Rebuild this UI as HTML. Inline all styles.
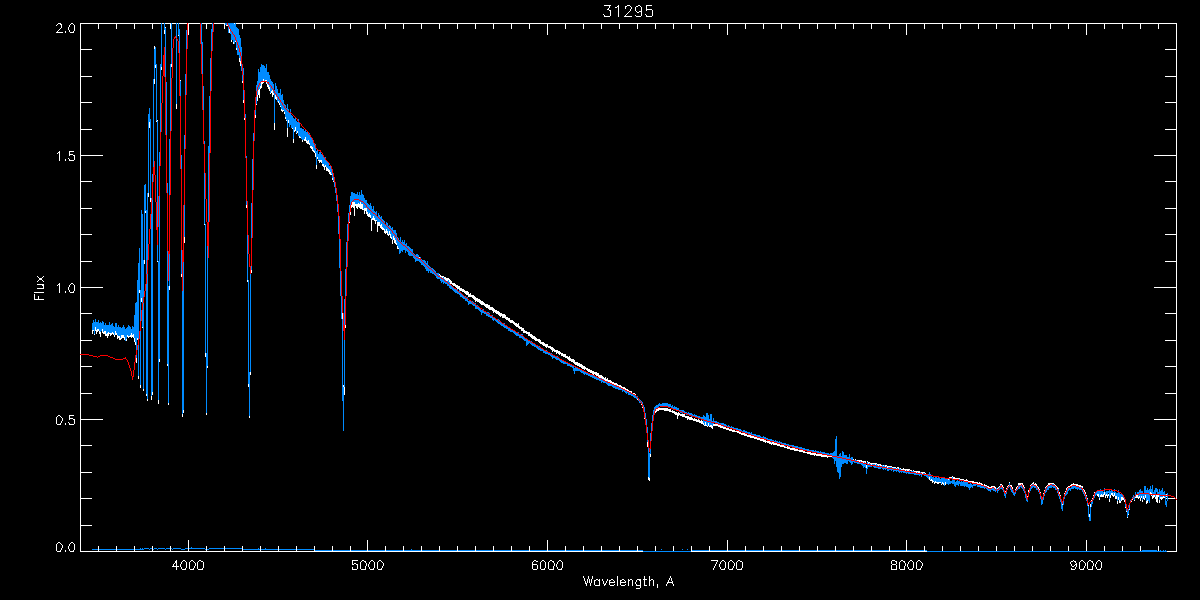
<!DOCTYPE html>
<html><head><meta charset="utf-8"><title>31295</title><style>html,body{margin:0;padding:0;background:#000;width:1200px;height:600px;overflow:hidden;font-family:"Liberation Sans",sans-serif}</style></head><body><svg width="1200" height="600" viewBox="0 0 1200 600" shape-rendering="crispEdges" style="display:block;position:absolute;left:0;top:0"><rect width="1200" height="600" fill="#000"/><path d="M604 5.5h7M646 5.5h6M646 9.5h6M604 16.5h6M624 16.5h8M636 16.5h5M646 16.5h6M80 23.5h81M165 23.5h6M172 23.5h4M179 23.5h8M188 23.5h12M202 23.5h10M214 23.5h11M236 23.5h941M56 32.5h7M70 32.5h4M80 49.5h12M1165 49.5h12M80 76.5h12M1165 76.5h12M80 102.5h12M1165 102.5h12M80 129.5h12M1165 129.5h12M69 151.5h5M69 154.5h4M80 155.5h23M1154 155.5h23M69 160.5h5M318 160.5h4M326 170.5h4M80 181.5h12M1165 181.5h12M352 204.5h11M351 205.5h12M351 206.5h4M356 206.5h7M359 207.5h4M80 208.5h12M1165 208.5h12M362 209.5h5M367 215.5h4M371 219.5h4M377 225.5h5M384 231.5h4M384 232.5h4M80 234.5h12M387 234.5h4M1165 234.5h12M80 261.5h12M1165 261.5h12M440 276.5h4M444 278.5h5M445 279.5h5M450 283.5h5M37 284.5h7M452 284.5h4M453 285.5h5M455 286.5h5M80 287.5h23M456 287.5h4M1154 287.5h23M37 288.5h7M457 288.5h5M459 289.5h5M460 290.5h5M462 291.5h6M34 292.5h10M70 292.5h4M464 292.5h5M465 293.5h4M466 294.5h5M468 295.5h6M468 296.5h7M472 297.5h4M473 298.5h5M34 299.5h10M474 299.5h6M475 300.5h6M477 301.5h6M479 302.5h5M480 303.5h5M481 304.5h7M484 305.5h6M485 306.5h5M486 307.5h7M488 308.5h6M489 309.5h6M492 310.5h5M493 311.5h6M495 312.5h5M80 313.5h12M496 313.5h6M1165 313.5h12M498 314.5h7M499 315.5h7M502 316.5h4M502 317.5h6M505 318.5h5M506 319.5h4M508 320.5h5M509 321.5h5M510 322.5h5M513 323.5h4M514 324.5h5M515 325.5h4M516 326.5h4M518 327.5h4M519 328.5h5M95 330.5h4M521 330.5h4M523 331.5h4M102 332.5h4M523 332.5h7M107 333.5h7M526 333.5h4M105 334.5h4M528 334.5h4M105 335.5h4M130 335.5h4M528 335.5h5M127 336.5h7M530 336.5h5M121 337.5h4M531 337.5h5M532 338.5h5M534 339.5h6M80 340.5h12M535 340.5h6M1165 340.5h12M539 342.5h5M540 343.5h5M542 344.5h6M543 345.5h5M545 346.5h6M548 347.5h5M550 348.5h4M551 349.5h4M552 350.5h6M554 351.5h6M556 352.5h5M558 353.5h5M561 354.5h5M561 355.5h5M563 356.5h5M565 357.5h5M567 358.5h4M568 359.5h6M569 360.5h6M571 361.5h4M573 362.5h5M574 363.5h6M575 364.5h7M577 365.5h6M80 366.5h12M579 366.5h6M1165 366.5h12M581 367.5h5M582 368.5h6M586 369.5h4M587 370.5h5M588 371.5h6M590 372.5h7M592 373.5h7M595 374.5h4M596 375.5h6M598 376.5h5M599 377.5h5M602 378.5h4M604 379.5h4M605 380.5h6M608 381.5h4M610 382.5h4M612 383.5h5M614 384.5h4M617 385.5h4M621 387.5h4M80 393.5h12M1165 393.5h12M658 408.5h10M656 409.5h15M664 410.5h7M669 411.5h6M672 412.5h5M674 413.5h6M675 414.5h10M69 415.5h5M680 415.5h5M682 416.5h7M685 417.5h7M69 418.5h4M687 418.5h6M80 419.5h23M689 419.5h8M1154 419.5h23M693 420.5h7M696 421.5h7M699 422.5h4M57 424.5h4M69 424.5h5M713 424.5h5M713 425.5h8M709 426.5h4M718 426.5h5M720 427.5h6M723 428.5h6M726 429.5h6M729 430.5h6M732 431.5h7M737 432.5h4M739 433.5h6M741 434.5h6M744 435.5h7M747 436.5h7M750 437.5h7M754 438.5h6M757 439.5h7M760 440.5h6M763 441.5h7M767 442.5h4M769 443.5h8M773 444.5h7M80 445.5h12M777 445.5h7M1165 445.5h12M780 446.5h5M784 447.5h6M787 448.5h8M790 449.5h8M794 450.5h9M799 451.5h6M803 452.5h8M807 453.5h9M810 454.5h12M816 455.5h11M821 456.5h11M857 460.5h5M861 461.5h5M870 463.5h7M877 464.5h4M887 466.5h5M892 467.5h4M901 469.5h9M914 471.5h6M80 472.5h12M921 472.5h4M1165 472.5h12M953 478.5h7M960 479.5h4M964 480.5h4M968 481.5h6M934 482.5h7M972 482.5h6M977 483.5h5M1018 483.5h5M1048 483.5h6M1071 484.5h7M1076 485.5h5M991 486.5h4M1079 486.5h4M988 487.5h4M1100 495.5h4M1105 495.5h4M1100 496.5h4M1135 497.5h5M1160 497.5h5M80 498.5h12M1168 498.5h7M80 525.5h12M1165 525.5h12M57 551.5h4M70 551.5h4M80 551.5h563M691 551.5h236M1167 551.5h10M352 560.5h6M711 560.5h7M532 564.5h5M892 564.5h4M172 566.5h7M182 569.5h4M190 569.5h4M198 569.5h5M352 569.5h5M361 569.5h5M370 569.5h4M378 569.5h4M533 569.5h4M541 569.5h4M549 569.5h5M558 569.5h4M721 569.5h4M729 569.5h4M737 569.5h5M891 569.5h6M900 569.5h5M909 569.5h4M917 569.5h4M1071 569.5h4M1080 569.5h4M1088 569.5h5M1097 569.5h4M637 579.5h4M643 579.5h4M609 582.5h6M620 582.5h6M667 582.5h6M595 585.5h5M610 585.5h4M621 585.5h4M636 585.5h5M636 588.5h4M34.5 294v5M37.5 276v1M37.5 281v1M38.5 277v1M38.5 280v1M38.5 296v3M39.5 278v2M40.5 278v2M41.5 278v2M42.5 277v1M42.5 280v1M42.5 285v1M43.5 276v1M43.5 281v1M43.5 285v3M56.5 25v1M56.5 417v7M56.5 544v7M57.5 24v1M57.5 31v1M57.5 153v1M57.5 285v1M57.5 416v1M57.5 543v1M58.5 23v1M58.5 30v1M58.5 152v1M58.5 284v1M58.5 415v1M58.5 542v1M59.5 23v1M59.5 29v1M59.5 151v10M59.5 283v10M59.5 415v1M59.5 542v1M60.5 23v2M60.5 28v1M60.5 416v1M60.5 423v1M60.5 543v1M60.5 550v1M61.5 24v4M61.5 417v1M61.5 421v2M61.5 544v1M61.5 548v2M62.5 418v3M62.5 545v3M65.5 31v2M65.5 159v2M65.5 291v2M65.5 423v2M65.5 550v2M68.5 27v3M68.5 158v1M68.5 287v3M68.5 422v1M68.5 546v3M69.5 25v2M69.5 30v2M69.5 152v2M69.5 155v1M69.5 159v1M69.5 285v2M69.5 290v2M69.5 416v2M69.5 419v1M69.5 423v1M69.5 544v2M69.5 549v2M70.5 24v1M70.5 284v1M70.5 543v1M71.5 23v1M71.5 283v1M71.5 542v1M72.5 23v1M72.5 283v1M72.5 542v1M73.5 24v1M73.5 31v1M73.5 155v1M73.5 284v1M73.5 291v1M73.5 419v1M73.5 543v1M73.5 550v1M74.5 25v6M74.5 155v5M74.5 285v6M74.5 419v5M74.5 544v6M80.5 24v25M80.5 50v26M80.5 77v25M80.5 103v26M80.5 130v25M80.5 156v25M80.5 182v26M80.5 209v25M80.5 235v26M80.5 262v25M80.5 288v25M80.5 314v26M80.5 341v13M80.5 355v11M80.5 367v26M80.5 394v25M80.5 420v25M80.5 446v26M80.5 473v25M80.5 499v26M80.5 526v25M92.5 330v4M93.5 330v1M94.5 334v1M95.5 327v3M96.5 331v3M97.5 329v1M97.5 331v1M98.5 24v5M98.5 329v1M98.5 546v5M99.5 331v3M100.5 332v5M102.5 329v3M103.5 333v1M104.5 331v1M104.5 333v1M105.5 331v1M105.5 333v1M107.5 336v2M108.5 332v1M110.5 334v2M111.5 334v1M112.5 332v1M113.5 334v1M114.5 335v2M115.5 331v4M116.5 24v5M116.5 333v2M116.5 546v5M117.5 335v4M118.5 336v2M119.5 336v4M120.5 338v2M121.5 335v2M121.5 338v1M122.5 335v2M123.5 335v2M124.5 338v2M126.5 339v2M127.5 335v1M128.5 337v1M131.5 333v2M131.5 337v1M133.5 334v1M133.5 337v1M134.5 24v5M134.5 338v4M134.5 546v5M135.5 342v3M136.5 358v5M137.5 338v2M138.5 376v3M139.5 290v3M140.5 385v3M141.5 298v4M142.5 327v1M143.5 389v2M144.5 260v4M145.5 211v2M146.5 394v2M147.5 399v2M148.5 193v4M149.5 122v6M150.5 198v4M151.5 396v4M152.5 24v5M152.5 392v3M152.5 546v5M154.5 46v3M154.5 79v5M155.5 65v3M156.5 121v1M157.5 120v1M157.5 261v1M158.5 400v4M159.5 359v3M161.5 67v3M162.5 23v1M163.5 23v1M164.5 30v4M165.5 27v1M167.5 364v2M168.5 403v2M169.5 286v4M170.5 24v5M170.5 546v5M171.5 64v3M173.5 564v2M174.5 563v1M175.5 561v2M176.5 104v5M176.5 560v6M176.5 567v3M177.5 23v1M178.5 35v1M180.5 80v1M180.5 564v3M181.5 274v3M181.5 562v2M181.5 567v2M182.5 414v3M182.5 561v1M183.5 410v3M183.5 560v1M184.5 237v6M184.5 560v1M185.5 561v1M185.5 568v1M186.5 562v6M188.5 24v11M188.5 540v11M189.5 562v7M190.5 561v1M191.5 560v1M192.5 560v1M193.5 561v1M193.5 568v1M194.5 562v1M194.5 566v2M195.5 563v3M197.5 562v7M198.5 561v1M199.5 560v1M200.5 560v1M201.5 561v1M202.5 561v1M202.5 568v1M203.5 562v6M204.5 224v1M205.5 353v4M206.5 24v5M206.5 413v2M206.5 546v5M207.5 366v2M224.5 24v5M224.5 546v5M226.5 25v1M227.5 25v1M229.5 29v4M231.5 40v2M233.5 42v2M234.5 23v1M235.5 41v1M236.5 48v2M239.5 58v4M240.5 61v5M242.5 24v5M242.5 81v2M242.5 546v5M243.5 100v3M244.5 118v2M246.5 205v3M247.5 280v2M248.5 384v3M249.5 416v2M250.5 372v3M251.5 270v3M255.5 115v3M256.5 104v1M257.5 95v6M258.5 90v5M259.5 89v9M260.5 24v5M260.5 86v3M260.5 546v5M261.5 82v6M262.5 82v2M263.5 79v2M263.5 82v1M265.5 80v1M266.5 80v1M266.5 82v2M267.5 84v3M268.5 85v4M269.5 87v4M270.5 93v1M271.5 91v2M272.5 90v7M273.5 93v2M274.5 123v7M275.5 95v4M276.5 97v3M278.5 24v5M278.5 101v2M278.5 546v5M279.5 103v2M280.5 106v1M281.5 109v2M282.5 110v2M283.5 110v1M284.5 112v2M285.5 117v2M286.5 120v1M287.5 128v9M288.5 120v3M292.5 128v1M293.5 139v4M294.5 130v2M295.5 127v4M296.5 24v5M296.5 133v1M296.5 546v5M297.5 131v2M299.5 136v2M300.5 137v1M302.5 140v2M304.5 139v2M305.5 137v4M306.5 140v3M307.5 141v3M308.5 140v4M309.5 143v2M310.5 146v2M311.5 146v3M312.5 147v4M313.5 150v2M314.5 24v5M314.5 151v2M314.5 546v5M315.5 153v4M316.5 165v4M317.5 157v2M319.5 161v2M320.5 161v1M321.5 161v2M322.5 164v2M323.5 164v3M324.5 166v4M325.5 165v2M326.5 167v3M327.5 168v2M328.5 169v1M328.5 171v1M329.5 171v3M330.5 172v3M331.5 174v1M332.5 24v5M332.5 178v2M332.5 546v5M333.5 181v1M342.5 313v6M343.5 385v2M344.5 387v8M345.5 325v3M349.5 222v1M350.5 24v5M350.5 212v3M350.5 546v5M351.5 207v1M352.5 202v2M352.5 561v4M352.5 567v2M353.5 202v2M353.5 207v1M353.5 564v1M354.5 202v2M354.5 207v9M354.5 563v1M355.5 563v1M356.5 207v1M356.5 564v1M357.5 207v2M357.5 564v5M358.5 203v1M360.5 202v2M360.5 208v1M360.5 562v7M361.5 208v1M361.5 561v1M362.5 208v1M362.5 560v1M363.5 560v1M364.5 208v1M364.5 210v4M364.5 561v1M365.5 208v1M365.5 210v1M365.5 561v2M365.5 566v3M366.5 208v1M366.5 210v4M366.5 563v3M367.5 24v11M367.5 212v3M367.5 540v11M368.5 214v1M368.5 216v1M368.5 564v3M369.5 213v2M369.5 216v1M369.5 562v2M369.5 567v2M370.5 216v2M370.5 561v1M371.5 220v11M371.5 560v1M372.5 218v1M372.5 560v1M373.5 216v3M373.5 561v1M373.5 568v1M374.5 218v1M374.5 220v1M374.5 562v6M375.5 220v4M376.5 220v1M377.5 222v3M377.5 226v6M377.5 562v7M378.5 222v3M378.5 561v1M379.5 222v3M379.5 560v1M380.5 226v2M380.5 560v1M381.5 224v1M381.5 226v3M381.5 561v1M381.5 568v1M382.5 227v3M382.5 562v1M382.5 566v2M383.5 228v2M383.5 563v3M384.5 229v2M385.5 24v5M385.5 233v1M385.5 546v5M386.5 229v2M387.5 233v1M388.5 235v1M389.5 231v3M390.5 235v3M391.5 237v2M392.5 240v4M393.5 236v4M394.5 238v5M395.5 240v4M396.5 243v2M397.5 246v3M398.5 248v1M403.5 24v5M403.5 546v5M419.5 257v1M421.5 24v5M421.5 546v5M439.5 24v5M439.5 274v1M439.5 546v5M440.5 275v1M442.5 277v1M444.5 277v1M445.5 277v1M446.5 280v1M447.5 280v1M449.5 280v2M450.5 280v3M451.5 281v2M457.5 24v5M457.5 546v5M470.5 293v1M475.5 24v5M475.5 301v1M475.5 546v5M493.5 24v5M493.5 312v1M493.5 546v5M500.5 316v1M511.5 24v5M511.5 546v5M518.5 323v1M521.5 329v1M522.5 329v1M523.5 329v1M529.5 24v5M529.5 546v5M532.5 562v2M532.5 565v4M533.5 561v1M534.5 560v1M535.5 560v1M536.5 561v1M537.5 561v1M537.5 565v4M538.5 341v1M539.5 341v1M540.5 341v1M540.5 562v7M541.5 561v1M542.5 560v1M543.5 560v1M544.5 561v1M544.5 568v1M545.5 562v6M546.5 347v1M547.5 24v11M547.5 540v11M548.5 562v7M549.5 561v1M550.5 560v1M551.5 560v1M552.5 351v1M552.5 561v1M553.5 561v2M553.5 566v3M554.5 563v3M556.5 353v1M556.5 564v3M557.5 562v2M557.5 567v2M558.5 561v1M559.5 354v1M559.5 560v1M560.5 560v1M561.5 561v1M561.5 568v1M562.5 562v6M565.5 24v5M565.5 546v5M569.5 356v1M583.5 24v5M583.5 546v5M583.5 576v2M584.5 369v1M584.5 578v3M585.5 581v3M586.5 583v3M587.5 579v4M588.5 576v3M589.5 579v4M590.5 583v3M591.5 579v4M592.5 576v3M593.5 374v1M594.5 580v5M595.5 580v1M596.5 579v1M597.5 579v1M598.5 580v1M599.5 579v6M601.5 24v5M601.5 546v5M602.5 579v2M603.5 14v1M603.5 581v3M604.5 15v1M604.5 584v2M605.5 377v1M605.5 583v2M606.5 581v2M607.5 9v1M607.5 378v1M607.5 579v2M608.5 8v2M609.5 6v2M609.5 10v1M609.5 580v2M609.5 583v2M610.5 10v6M610.5 580v1M611.5 579v1M612.5 579v1M613.5 580v1M614.5 581v1M614.5 584v1M615.5 7v1M616.5 7v1M617.5 6v1M617.5 576v10M618.5 5v12M619.5 24v5M619.5 386v1M619.5 546v5M620.5 386v1M620.5 580v2M620.5 583v2M621.5 386v1M621.5 580v1M622.5 579v1M623.5 388v1M623.5 579v1M624.5 388v1M624.5 580v1M625.5 6v3M625.5 15v1M625.5 388v2M625.5 581v1M625.5 584v1M626.5 6v1M626.5 14v1M626.5 389v1M627.5 5v1M627.5 13v1M627.5 389v2M628.5 5v1M628.5 12v1M628.5 390v1M628.5 579v7M629.5 5v1M629.5 11v1M629.5 391v1M629.5 580v1M630.5 6v1M630.5 9v2M630.5 391v1M630.5 579v1M631.5 7v2M631.5 391v2M631.5 579v1M632.5 580v6M633.5 393v1M634.5 393v1M635.5 7v4M635.5 15v1M635.5 394v1M635.5 582v2M636.5 6v1M636.5 11v1M636.5 580v2M636.5 584v1M637.5 6v1M637.5 12v1M637.5 24v5M637.5 399v1M637.5 546v5M638.5 5v1M638.5 12v1M639.5 5v1M639.5 11v1M639.5 580v1M640.5 6v1M640.5 11v1M640.5 580v5M640.5 586v2M641.5 7v9M641.5 404v1M642.5 407v1M644.5 418v1M644.5 576v3M644.5 580v6M645.5 14v1M645.5 585v1M646.5 6v3M646.5 10v1M646.5 15v1M646.5 585v1M647.5 442v5M648.5 477v3M649.5 478v3M649.5 576v10M650.5 454v3M650.5 580v1M651.5 579v1M652.5 10v6M652.5 579v1M653.5 580v6M655.5 24v5M655.5 411v2M655.5 546v5M656.5 410v2M657.5 410v1M657.5 584v4M658.5 410v1M666.5 584v2M667.5 583v1M668.5 580v2M669.5 578v2M670.5 576v2M671.5 578v3M672.5 410v1M672.5 581v1M672.5 583v1M673.5 24v5M673.5 546v5M673.5 584v2M677.5 415v4M678.5 412v1M678.5 415v1M687.5 419v1M691.5 24v5M691.5 546v5M694.5 418v1M698.5 419v1M701.5 420v1M701.5 423v1M702.5 423v1M703.5 423v2M704.5 425v1M705.5 422v4M706.5 425v1M707.5 426v1M708.5 423v3M709.5 24v5M709.5 546v5M710.5 425v1M711.5 425v1M711.5 427v1M712.5 427v2M713.5 568v2M714.5 566v2M715.5 564v2M716.5 562v2M717.5 561v1M719.5 564v3M720.5 562v2M720.5 567v2M721.5 561v1M722.5 560v1M723.5 560v1M724.5 561v1M724.5 568v1M725.5 562v6M727.5 24v11M727.5 540v11M728.5 562v7M729.5 561v1M730.5 560v1M731.5 560v1M732.5 561v1M732.5 568v1M733.5 562v1M733.5 566v2M734.5 563v3M736.5 562v7M737.5 561v1M738.5 560v1M739.5 560v1M740.5 561v1M741.5 561v1M741.5 568v1M742.5 562v6M745.5 24v5M745.5 546v5M763.5 24v5M763.5 546v5M765.5 442v1M771.5 444v1M772.5 442v1M773.5 442v1M781.5 24v5M781.5 546v5M787.5 446v1M799.5 24v5M799.5 546v5M814.5 455v1M817.5 24v5M817.5 546v5M827.5 457v1M835.5 24v5M835.5 546v5M853.5 24v5M853.5 459v1M853.5 546v5M855.5 459v1M859.5 461v1M863.5 462v1M865.5 462v1M866.5 465v3M867.5 461v1M868.5 462v2M869.5 462v1M871.5 24v5M871.5 464v1M871.5 546v5M875.5 464v1M878.5 465v1M880.5 465v1M881.5 465v1M883.5 465v1M885.5 465v2M886.5 465v1M887.5 467v1M889.5 24v5M889.5 546v5M891.5 561v3M891.5 565v4M892.5 560v1M893.5 560v1M894.5 560v1M895.5 561v1M896.5 468v1M896.5 561v3M896.5 565v4M897.5 467v1M898.5 467v2M899.5 562v7M900.5 468v1M900.5 561v1M901.5 560v1M902.5 560v1M903.5 468v1M903.5 561v1M904.5 561v2M904.5 566v3M905.5 470v1M905.5 563v3M906.5 24v11M906.5 540v11M907.5 470v1M907.5 564v3M908.5 470v1M908.5 562v2M908.5 567v2M909.5 561v1M910.5 470v1M910.5 560v1M911.5 470v1M911.5 560v1M912.5 561v1M912.5 568v1M913.5 470v1M913.5 562v6M916.5 472v1M916.5 562v7M917.5 561v1M918.5 472v1M918.5 560v1M919.5 472v1M919.5 560v1M920.5 561v1M920.5 568v1M921.5 562v1M921.5 566v2M922.5 473v1M922.5 563v3M924.5 24v5M924.5 546v5M925.5 473v1M929.5 477v3M930.5 480v1M931.5 479v2M932.5 480v3M933.5 481v1M934.5 483v1M935.5 481v1M937.5 483v1M938.5 483v1M941.5 484v1M942.5 24v5M942.5 482v2M942.5 546v5M943.5 483v2M945.5 482v3M948.5 479v1M949.5 477v1M950.5 477v1M951.5 477v1M952.5 476v1M953.5 477v1M954.5 477v1M960.5 24v5M960.5 546v5M966.5 479v1M978.5 24v5M978.5 546v5M979.5 482v1M981.5 484v1M982.5 484v1M984.5 484v2M985.5 485v1M986.5 485v1M987.5 486v1M988.5 486v1M994.5 487v1M995.5 487v2M996.5 24v5M996.5 546v5M997.5 488v1M998.5 487v1M999.5 486v1M1000.5 484v1M1001.5 484v1M1002.5 485v2M1003.5 487v1M1005.5 491v1M1006.5 488v1M1007.5 486v1M1008.5 485v1M1009.5 482v1M1010.5 485v1M1011.5 485v2M1012.5 487v2M1014.5 24v5M1014.5 546v5M1015.5 489v1M1016.5 487v2M1017.5 486v1M1018.5 484v1M1019.5 484v1M1020.5 484v1M1022.5 484v1M1023.5 485v2M1024.5 487v1M1027.5 496v1M1028.5 490v2M1030.5 485v1M1031.5 484v1M1032.5 24v5M1032.5 483v1M1032.5 546v5M1033.5 482v2M1034.5 484v1M1035.5 483v2M1036.5 484v2M1037.5 486v1M1038.5 487v2M1039.5 489v1M1040.5 492v1M1043.5 493v1M1044.5 490v1M1045.5 487v1M1046.5 486v1M1047.5 485v1M1048.5 484v1M1049.5 484v1M1050.5 24v5M1050.5 546v5M1054.5 484v1M1055.5 485v1M1056.5 486v1M1057.5 487v2M1058.5 488v1M1059.5 492v2M1060.5 495v1M1062.5 504v1M1064.5 493v1M1065.5 491v1M1066.5 488v2M1067.5 487v1M1068.5 24v5M1068.5 486v1M1068.5 546v5M1069.5 486v1M1070.5 485v1M1070.5 562v2M1071.5 485v1M1071.5 561v1M1071.5 564v2M1071.5 568v1M1072.5 561v1M1072.5 566v1M1073.5 483v1M1073.5 560v1M1073.5 566v1M1074.5 561v1M1074.5 565v1M1075.5 561v2M1075.5 564v1M1075.5 567v2M1076.5 563v4M1079.5 562v7M1080.5 561v1M1081.5 560v1M1082.5 487v1M1082.5 560v1M1083.5 489v1M1083.5 561v1M1083.5 568v1M1084.5 490v2M1084.5 562v1M1084.5 566v2M1085.5 492v2M1085.5 563v3M1086.5 24v11M1086.5 495v1M1086.5 540v11M1087.5 498v1M1087.5 562v7M1088.5 505v1M1088.5 561v1M1089.5 514v3M1089.5 560v1M1090.5 504v3M1090.5 560v1M1091.5 500v1M1091.5 561v1M1092.5 498v1M1092.5 561v2M1092.5 566v3M1093.5 495v1M1093.5 563v3M1094.5 492v1M1095.5 564v3M1096.5 562v2M1096.5 567v2M1097.5 494v2M1097.5 561v1M1098.5 494v3M1098.5 560v1M1099.5 498v2M1099.5 560v1M1100.5 561v1M1100.5 568v1M1101.5 494v1M1101.5 562v6M1103.5 494v1M1104.5 24v5M1104.5 492v3M1104.5 546v5M1105.5 496v2M1106.5 494v1M1107.5 496v2M1108.5 494v1M1109.5 499v3M1110.5 495v3M1111.5 493v2M1112.5 493v3M1113.5 495v2M1114.5 493v3M1115.5 496v3M1116.5 496v3M1117.5 501v3M1118.5 497v3M1119.5 500v3M1120.5 501v2M1121.5 497v4M1122.5 24v5M1122.5 497v3M1122.5 546v5M1123.5 498v2M1124.5 500v2M1125.5 507v1M1126.5 511v1M1127.5 517v1M1128.5 514v1M1129.5 509v1M1131.5 501v1M1132.5 499v1M1134.5 500v1M1136.5 495v2M1137.5 495v2M1138.5 498v1M1139.5 496v1M1140.5 24v5M1140.5 498v3M1140.5 546v5M1141.5 496v2M1142.5 500v2M1143.5 496v3M1144.5 498v2M1145.5 495v3M1146.5 501v3M1147.5 500v3M1150.5 492v2M1151.5 493v1M1151.5 495v1M1152.5 496v3M1153.5 495v3M1154.5 495v2M1155.5 497v2M1156.5 495v7M1157.5 495v8M1158.5 24v5M1158.5 495v2M1158.5 546v5M1159.5 500v3M1160.5 498v1M1161.5 498v2M1162.5 498v1M1163.5 496v1M1166.5 494v1M1166.5 496v1M1166.5 498v1M1176.5 24v25M1176.5 50v26M1176.5 77v25M1176.5 103v26M1176.5 130v25M1176.5 156v25M1176.5 182v26M1176.5 209v25M1176.5 235v26M1176.5 262v25M1176.5 288v25M1176.5 314v26M1176.5 341v25M1176.5 367v26M1176.5 394v25M1176.5 420v25M1176.5 446v26M1176.5 473v26M1176.5 500v25M1176.5 526v25" stroke="#fff" stroke-width="1" fill="none"/><path d="M261 81.5h6M354 199.5h5M80 354.5h9M89 355.5h4M100 355.5h8M93 356.5h4M115 359.5h8M660 406.5h8M707 421.5h4M711 422.5h4M760 438.5h4M770 441.5h4M777 443.5h4M784 445.5h4M788 446.5h4M795 448.5h4M799 449.5h4M803 450.5h4M807 451.5h5M812 452.5h5M817 453.5h5M822 454.5h5M827 455.5h5M832 456.5h5M837 457.5h5M842 458.5h4M846 459.5h5M851 460.5h4M855 461.5h4M859 462.5h4M863 463.5h4M870 465.5h6M876 466.5h6M882 467.5h5M887 468.5h6M893 469.5h6M899 470.5h6M905 471.5h5M910 472.5h6M916 473.5h6M922 474.5h6M928 475.5h5M933 476.5h6M939 477.5h6M945 478.5h7M952 479.5h7M959 480.5h5M964 481.5h4M968 482.5h4M972 483.5h5M977 484.5h4M1072 485.5h4M988 488.5h4M1104 489.5h8M1097 490.5h7M1112 490.5h5M1139 493.5h10M1149 494.5h11M1160 495.5h11M97.5 357v1M98.5 356v1M99.5 356v1M108.5 356v1M109.5 356v1M110.5 357v1M111.5 357v1M112.5 357v1M113.5 358v1M114.5 358v1M123.5 358v1M124.5 358v1M125.5 357v2M126.5 359v1M127.5 360v2M128.5 362v3M129.5 365v3M130.5 368v3M131.5 371v5M132.5 376v4M133.5 370v7M134.5 362v8M135.5 355v7M136.5 350v5M137.5 345v5M138.5 339v6M139.5 331v8M140.5 321v10M141.5 310v11M142.5 303v7M143.5 297v6M144.5 291v6M145.5 284v7M146.5 274v10M147.5 260v14M148.5 244v16M149.5 229v15M150.5 214v15M151.5 200v14M152.5 182v18M153.5 167v15M154.5 161v14M155.5 175v27M156.5 202v28M157.5 227v18M158.5 196v31M159.5 166v30M160.5 132v34M161.5 103v29M162.5 76v27M163.5 55v21M164.5 47v30M165.5 77v58M166.5 135v58M167.5 193v58M168.5 251v30M169.5 195v59M170.5 131v64M171.5 78v53M172.5 48v30M173.5 39v9M174.5 37v2M175.5 36v2M176.5 38v1M177.5 39v2M178.5 41v12M179.5 53v43M180.5 96v73M181.5 169v81M182.5 250v41M183.5 205v57M184.5 149v56M185.5 95v54M186.5 49v46M187.5 23v26M200.5 23v21M201.5 44v30M202.5 74v36M203.5 110v34M204.5 144v29M205.5 173v26M206.5 199v23M207.5 222v24M208.5 222v36M209.5 153v69M210.5 91v62M211.5 51v40M212.5 32v19M213.5 23v9M227.5 23v2M228.5 25v2M229.5 27v2M230.5 29v2M231.5 31v1M232.5 32v2M233.5 34v1M234.5 35v2M235.5 37v3M236.5 40v2M237.5 42v3M238.5 45v3M239.5 48v4M240.5 52v4M241.5 56v8M242.5 64v11M243.5 75v15M244.5 90v28M245.5 118v40M246.5 158v43M247.5 201v34M248.5 235v19M249.5 254v13M250.5 266v8M251.5 238v28M252.5 190v48M253.5 141v49M254.5 110v31M255.5 97v13M256.5 91v6M257.5 87v4M258.5 85v2M259.5 83v2M260.5 82v1M267.5 82v1M268.5 82v2M269.5 84v1M270.5 85v1M271.5 86v2M272.5 88v1M273.5 89v2M274.5 91v2M275.5 93v1M276.5 94v2M277.5 96v1M278.5 97v2M279.5 99v1M280.5 100v2M281.5 102v1M282.5 103v2M283.5 105v1M284.5 106v2M285.5 108v1M286.5 109v1M287.5 110v1M288.5 111v1M289.5 112v1M290.5 112v1M291.5 113v1M292.5 114v1M293.5 115v1M294.5 116v1M295.5 117v1M296.5 118v1M297.5 119v2M298.5 121v1M299.5 122v1M300.5 123v1M301.5 124v2M302.5 126v1M303.5 127v1M304.5 128v1M305.5 129v1M306.5 130v1M307.5 131v1M308.5 132v2M309.5 134v1M310.5 135v2M311.5 137v1M312.5 138v2M313.5 140v3M314.5 143v2M315.5 145v3M316.5 148v1M317.5 149v1M318.5 150v1M319.5 150v1M320.5 150v2M321.5 152v1M322.5 153v2M323.5 155v2M324.5 157v1M325.5 158v2M326.5 160v1M327.5 161v1M328.5 162v1M329.5 163v2M330.5 165v1M331.5 166v3M332.5 169v4M333.5 173v4M334.5 177v5M335.5 182v6M336.5 188v7M337.5 195v9M338.5 204v12M339.5 216v23M340.5 239v32M341.5 271v25M342.5 296v17M343.5 313v18M344.5 325v15M345.5 296v29M346.5 267v29M347.5 241v26M348.5 222v19M349.5 212v10M350.5 205v7M351.5 202v3M352.5 201v1M353.5 200v1M359.5 200v1M360.5 200v1M361.5 201v1M362.5 201v1M363.5 202v1M364.5 203v1M365.5 204v1M366.5 205v2M367.5 207v1M368.5 208v1M369.5 209v1M370.5 210v1M371.5 211v1M372.5 212v1M373.5 213v1M374.5 213v1M375.5 214v1M376.5 215v1M377.5 216v1M378.5 217v1M379.5 218v1M380.5 219v1M381.5 220v1M382.5 221v1M383.5 222v1M384.5 223v1M385.5 224v1M386.5 225v1M387.5 226v1M388.5 227v1M389.5 228v1M390.5 229v1M391.5 230v1M392.5 231v2M393.5 233v1M394.5 234v1M395.5 235v2M396.5 237v1M397.5 238v2M398.5 240v1M399.5 241v1M400.5 242v1M401.5 243v1M402.5 244v1M403.5 245v1M404.5 245v1M405.5 246v1M406.5 247v1M407.5 248v1M408.5 249v1M409.5 250v1M410.5 251v1M411.5 252v1M412.5 253v1M413.5 254v1M414.5 255v1M415.5 256v1M416.5 257v1M417.5 257v1M418.5 258v1M419.5 258v1M420.5 258v2M421.5 260v1M422.5 261v1M423.5 262v1M424.5 263v1M425.5 264v1M426.5 265v1M427.5 266v1M428.5 267v1M429.5 268v1M430.5 268v1M431.5 269v1M432.5 270v1M433.5 271v1M434.5 272v1M435.5 273v1M436.5 274v1M437.5 275v1M438.5 276v1M439.5 276v1M440.5 277v1M441.5 278v1M442.5 278v1M443.5 279v1M444.5 280v1M445.5 281v1M446.5 281v1M447.5 282v1M448.5 283v1M449.5 284v1M450.5 284v1M451.5 285v1M452.5 286v1M453.5 287v1M454.5 288v1M455.5 288v1M456.5 289v1M457.5 290v1M458.5 291v1M459.5 292v1M460.5 292v1M461.5 293v1M462.5 294v1M463.5 295v1M464.5 296v1M465.5 297v1M466.5 297v1M467.5 298v1M468.5 299v1M469.5 300v1M470.5 300v1M471.5 301v1M472.5 302v1M473.5 303v1M474.5 303v1M475.5 304v1M476.5 305v1M477.5 306v1M478.5 306v1M479.5 307v1M480.5 308v1M481.5 308v1M482.5 309v1M483.5 310v1M484.5 311v1M485.5 311v1M486.5 312v1M487.5 313v1M488.5 313v1M489.5 314v1M490.5 315v1M491.5 315v1M492.5 316v1M493.5 317v1M494.5 317v1M495.5 318v1M496.5 319v1M497.5 319v1M498.5 320v1M499.5 321v1M500.5 321v1M501.5 322v1M502.5 323v1M503.5 323v1M504.5 324v1M505.5 325v1M506.5 325v1M507.5 326v1M508.5 327v1M509.5 327v1M510.5 328v1M511.5 329v1M512.5 329v1M513.5 330v1M514.5 330v1M515.5 331v1M516.5 332v1M517.5 332v1M518.5 333v1M519.5 334v1M520.5 334v1M521.5 335v1M522.5 335v1M523.5 336v1M524.5 337v1M525.5 338v1M526.5 338v1M527.5 339v1M528.5 340v1M529.5 340v1M530.5 341v1M531.5 342v1M532.5 342v1M533.5 343v1M534.5 343v1M535.5 344v1M536.5 345v1M537.5 345v1M538.5 346v1M539.5 347v1M540.5 347v1M541.5 348v1M542.5 348v1M543.5 349v1M544.5 350v1M545.5 350v1M546.5 351v1M547.5 351v1M548.5 352v1M549.5 352v1M550.5 353v1M551.5 354v1M552.5 354v1M553.5 355v1M554.5 355v1M555.5 356v1M556.5 356v1M557.5 357v1M558.5 357v1M559.5 358v1M560.5 359v1M561.5 359v1M562.5 360v1M563.5 360v1M564.5 361v1M565.5 361v1M566.5 362v1M567.5 362v1M568.5 363v1M569.5 363v1M570.5 364v1M571.5 364v1M572.5 365v1M573.5 365v1M574.5 366v1M575.5 366v1M576.5 367v1M577.5 367v1M578.5 368v1M579.5 368v1M580.5 369v1M581.5 369v1M582.5 370v1M583.5 370v1M584.5 371v1M585.5 371v1M586.5 372v1M587.5 372v1M588.5 373v1M589.5 373v1M590.5 374v1M591.5 374v1M592.5 374v1M593.5 375v1M594.5 375v1M595.5 376v1M596.5 376v1M597.5 377v1M598.5 377v1M599.5 378v1M600.5 378v1M601.5 379v1M602.5 379v1M603.5 380v1M604.5 380v1M605.5 381v1M606.5 381v1M607.5 382v1M608.5 382v1M609.5 382v1M610.5 383v1M611.5 383v1M612.5 384v1M613.5 384v1M614.5 385v1M615.5 385v1M616.5 386v1M617.5 386v1M618.5 386v1M619.5 387v1M620.5 387v1M621.5 388v1M622.5 388v1M623.5 389v1M624.5 389v1M625.5 390v1M626.5 390v1M627.5 391v1M628.5 391v1M629.5 392v1M630.5 392v1M631.5 393v1M632.5 393v1M633.5 394v1M634.5 394v1M635.5 395v1M636.5 396v1M637.5 397v1M638.5 398v2M639.5 400v1M640.5 401v1M641.5 402v2M642.5 404v3M643.5 407v5M644.5 412v6M645.5 418v7M646.5 425v8M647.5 433v7M648.5 440v8M649.5 448v4M650.5 441v8M651.5 431v10M652.5 421v10M653.5 415v6M654.5 411v4M655.5 409v2M656.5 408v1M657.5 408v1M658.5 407v1M659.5 407v1M668.5 407v1M669.5 407v1M670.5 408v1M671.5 408v1M672.5 408v1M673.5 409v1M674.5 409v1M675.5 409v1M676.5 410v1M677.5 410v1M678.5 410v1M679.5 411v1M680.5 411v1M681.5 411v1M682.5 412v1M683.5 412v1M684.5 413v1M685.5 413v1M686.5 413v1M687.5 414v1M688.5 414v1M689.5 415v1M690.5 415v1M691.5 415v1M692.5 416v1M693.5 416v1M694.5 416v1M695.5 417v1M696.5 417v1M697.5 417v1M698.5 418v1M699.5 418v1M700.5 418v1M701.5 419v1M702.5 419v1M703.5 419v1M704.5 420v1M705.5 420v1M706.5 420v1M715.5 423v1M716.5 423v1M717.5 423v1M718.5 424v1M719.5 424v1M720.5 424v1M721.5 425v1M722.5 425v1M723.5 425v1M724.5 426v1M725.5 426v1M726.5 426v1M727.5 427v1M728.5 427v1M729.5 427v1M730.5 428v1M731.5 428v1M732.5 428v1M733.5 429v1M734.5 429v1M735.5 429v1M736.5 430v1M737.5 430v1M738.5 430v1M739.5 431v1M740.5 431v1M741.5 431v1M742.5 432v1M743.5 432v1M744.5 432v1M745.5 433v1M746.5 433v1M747.5 433v1M748.5 434v1M749.5 434v1M750.5 434v1M751.5 435v1M752.5 435v1M753.5 435v1M754.5 436v1M755.5 436v1M756.5 436v1M757.5 437v1M758.5 437v1M759.5 437v1M764.5 439v1M765.5 439v1M766.5 439v1M767.5 440v1M768.5 440v1M769.5 440v1M774.5 442v1M775.5 442v1M776.5 442v1M781.5 444v1M782.5 444v1M783.5 444v1M792.5 447v1M793.5 447v1M794.5 447v1M867.5 464v1M868.5 464v1M869.5 464v1M981.5 485v1M982.5 485v1M983.5 485v1M984.5 486v1M985.5 486v1M986.5 487v1M987.5 487v1M992.5 487v1M993.5 487v1M994.5 488v1M995.5 489v1M996.5 490v1M997.5 489v1M998.5 489v1M999.5 488v1M1000.5 486v2M1001.5 485v2M1002.5 487v1M1003.5 488v2M1004.5 490v3M1005.5 492v2M1006.5 489v3M1007.5 487v2M1008.5 486v1M1009.5 485v1M1010.5 486v1M1011.5 487v2M1012.5 489v1M1013.5 490v2M1014.5 492v1M1015.5 490v2M1016.5 489v1M1017.5 487v2M1018.5 486v1M1019.5 485v1M1020.5 485v1M1021.5 484v1M1022.5 485v2M1023.5 487v2M1024.5 489v2M1025.5 491v3M1026.5 494v4M1027.5 497v3M1028.5 492v5M1029.5 488v4M1030.5 486v2M1031.5 485v1M1032.5 485v1M1033.5 484v1M1034.5 485v1M1035.5 485v1M1036.5 486v2M1037.5 488v1M1038.5 489v1M1039.5 490v3M1040.5 493v3M1041.5 496v3M1042.5 497v3M1043.5 494v3M1044.5 491v3M1045.5 489v2M1046.5 487v2M1047.5 486v1M1048.5 485v1M1049.5 485v1M1050.5 484v1M1051.5 484v1M1052.5 485v1M1053.5 485v1M1054.5 485v1M1055.5 486v1M1056.5 487v2M1057.5 489v2M1058.5 491v3M1059.5 494v2M1060.5 496v3M1061.5 499v3M1062.5 501v3M1063.5 497v4M1064.5 494v3M1065.5 492v2M1066.5 490v2M1067.5 488v2M1068.5 487v1M1069.5 487v1M1070.5 486v1M1071.5 486v1M1076.5 486v1M1077.5 486v1M1078.5 486v1M1079.5 487v1M1080.5 487v1M1081.5 488v1M1082.5 488v2M1083.5 490v2M1084.5 492v2M1085.5 494v3M1086.5 497v3M1087.5 500v3M1088.5 503v2M1089.5 502v2M1090.5 501v1M1091.5 501v1M1092.5 499v2M1093.5 496v3M1094.5 493v3M1095.5 492v1M1096.5 491v1M1117.5 491v1M1118.5 491v1M1119.5 492v1M1120.5 492v1M1121.5 493v1M1122.5 494v1M1123.5 495v2M1124.5 497v2M1125.5 499v5M1126.5 504v5M1127.5 508v3M1128.5 505v3M1129.5 503v2M1130.5 501v2M1131.5 499v2M1132.5 498v1M1133.5 497v1M1134.5 496v1M1135.5 495v1M1136.5 494v1M1137.5 494v1M1138.5 494v1M1171.5 496v1M1172.5 496v1M1173.5 496v1M1174.5 497v1M1175.5 498v1M1176.5 499v1" stroke="#f00" stroke-width="1" fill="none"/><path d="M228 23.5h6M228 24.5h8M229 25.5h7M229 26.5h7M230 27.5h7M230 28.5h8M231 29.5h8M231 30.5h8M232 31.5h7M233 32.5h6M233 33.5h6M234 34.5h5M235 35.5h5M235 36.5h5M231 37.5h4M236 37.5h4M231 38.5h4M236 38.5h5M231 39.5h4M236 39.5h5M237 40.5h4M237 41.5h4M261 66.5h4M260 67.5h5M260 68.5h7M260 69.5h7M260 70.5h7M260 71.5h7M258 72.5h11M258 73.5h11M258 74.5h11M258 75.5h12M258 76.5h12M258 77.5h12M258 78.5h12M258 79.5h5M264 79.5h7M258 80.5h5M267 80.5h4M257 81.5h4M267 81.5h5M269 82.5h4M269 83.5h4M270 84.5h4M274 90.5h4M276 93.5h5M277 94.5h4M277 95.5h6M278 96.5h5M279 97.5h4M279 98.5h4M281 108.5h4M282 109.5h4M284 111.5h4M285 112.5h4M285 113.5h6M285 114.5h6M285 115.5h7M285 116.5h8M286 117.5h7M286 118.5h8M286 119.5h10M289 120.5h7M289 121.5h8M289 122.5h10M289 123.5h11M289 124.5h11M291 125.5h9M291 126.5h9M291 127.5h4M296 127.5h4M296 128.5h6M296 129.5h8M296 130.5h8M298 131.5h8M298 132.5h10M298 133.5h10M298 134.5h11M298 135.5h12M300 136.5h10M301 137.5h4M306 137.5h5M301 138.5h4M306 138.5h6M306 139.5h6M309 140.5h4M309 141.5h4M309 142.5h4M310 143.5h4M310 144.5h4M310 145.5h5M316 154.5h6M316 155.5h7M316 156.5h7M318 157.5h6M318 158.5h7M318 159.5h7M322 160.5h4M322 161.5h5M322 162.5h6M322 163.5h7M324 164.5h5M326 166.5h5M327 167.5h4M351 193.5h4M351 194.5h7M351 195.5h13M350 196.5h14M350 197.5h14M350 198.5h15M350 199.5h4M359 199.5h6M354 200.5h5M361 200.5h6M353 201.5h8M363 201.5h4M355 202.5h5M367 205.5h4M367 206.5h5M363 207.5h4M368 207.5h4M370 209.5h4M144 210.5h4M367 211.5h4M368 212.5h4M373 212.5h4M370 214.5h5M371 215.5h5M374 217.5h4M375 218.5h4M375 219.5h5M377 220.5h4M377 221.5h5M380 223.5h4M382 225.5h4M382 226.5h5M383 227.5h5M384 228.5h5M387 230.5h4M392 230.5h4M391 235.5h4M396 242.5h4M401 242.5h4M397 243.5h4M397 244.5h5M403 244.5h4M397 245.5h6M398 246.5h7M398 247.5h8M399 248.5h8M399 249.5h9M409 249.5h4M399 250.5h4M405 250.5h4M408 253.5h4M408 254.5h5M409 255.5h5M415 255.5h4M414 258.5h4M415 259.5h5M415 260.5h6M421 264.5h4M425 268.5h4M426 269.5h5M426 270.5h6M430 272.5h4M436 277.5h4M437 278.5h4M440 280.5h4M441 281.5h4M443 282.5h4M447 285.5h4M449 287.5h4M450 288.5h4M452 289.5h4M140 290.5h4M453 290.5h4M140 291.5h4M454 291.5h4M140 292.5h4M455 292.5h4M140 293.5h4M457 293.5h4M140 294.5h4M140 295.5h4M140 296.5h4M460 296.5h4M463 298.5h4M467 301.5h4M468 302.5h4M135 303.5h4M468 303.5h5M135 304.5h4M135 305.5h4M135 306.5h4M135 307.5h4M475 307.5h4M135 308.5h4M475 308.5h5M135 309.5h4M135 310.5h4M479 310.5h4M135 311.5h4M480 311.5h4M135 312.5h4M481 312.5h5M135 313.5h4M135 314.5h4M134 315.5h5M486 315.5h4M134 316.5h5M488 316.5h4M134 317.5h5M134 318.5h5M134 319.5h5M492 319.5h4M134 320.5h5M134 321.5h5M93 322.5h6M134 322.5h5M497 322.5h4M92 323.5h12M134 323.5h5M498 323.5h4M92 324.5h12M134 324.5h5M500 324.5h4M92 325.5h21M134 325.5h5M501 325.5h4M92 326.5h22M134 326.5h5M503 326.5h4M96 327.5h25M127 327.5h4M132 327.5h7M504 327.5h4M96 328.5h29M126 328.5h5M132 328.5h7M506 328.5h4M103 329.5h36M103 330.5h36M508 330.5h5M106 331.5h9M116 331.5h23M510 331.5h5M116 332.5h23M117 333.5h14M132 333.5h7M514 333.5h4M117 334.5h14M134 334.5h5M515 334.5h4M134 335.5h5M516 335.5h5M134 336.5h5M519 336.5h4M134 337.5h5M519 337.5h5M523 339.5h4M524 340.5h4M526 341.5h4M526 342.5h5M531 344.5h4M532 345.5h4M534 346.5h4M537 348.5h4M538 349.5h5M540 350.5h4M543 352.5h5M545 353.5h5M551 356.5h4M552 357.5h5M555 358.5h4M556 359.5h4M560 361.5h4M561 362.5h5M563 363.5h5M567 365.5h5M570 366.5h4M573 368.5h5M573 369.5h7M573 370.5h9M580 371.5h4M581 372.5h5M583 373.5h5M586 374.5h4M588 375.5h5M590 376.5h5M592 377.5h5M594 378.5h5M596 379.5h5M599 380.5h4M601 381.5h4M603 382.5h4M606 383.5h4M607 384.5h5M608 385.5h6M612 386.5h4M613 387.5h6M615 388.5h6M618 389.5h5M625 392.5h4M628 394.5h5M631 395.5h4M662 403.5h6M658 404.5h13M656 405.5h15M655 406.5h4M668 406.5h5M654 407.5h4M671 407.5h6M673 408.5h6M679 410.5h5M687 413.5h5M689 414.5h4M692 415.5h5M695 416.5h5M698 417.5h11M701 418.5h8M704 419.5h8M707 420.5h5M703 421.5h4M711 421.5h6M706 422.5h5M715 422.5h4M709 423.5h5M718 423.5h6M709 424.5h4M721 424.5h5M730 427.5h4M733 428.5h5M736 429.5h5M742 431.5h5M745 432.5h5M748 433.5h4M751 434.5h5M754 435.5h6M757 436.5h4M760 437.5h6M764 438.5h4M767 439.5h5M770 440.5h4M774 441.5h4M777 442.5h5M781 443.5h5M784 444.5h5M788 445.5h6M792 446.5h6M795 447.5h7M799 448.5h6M803 449.5h6M807 450.5h7M812 451.5h7M817 452.5h8M833 452.5h4M822 453.5h7M830 453.5h7M827 454.5h10M832 455.5h5M842 455.5h5M837 456.5h10M832 457.5h5M842 457.5h8M833 458.5h9M846 458.5h7M834 459.5h12M834 460.5h17M836 461.5h12M849 461.5h6M836 462.5h12M854 462.5h5M836 463.5h8M857 463.5h6M836 464.5h6M861 464.5h5M836 465.5h6M862 465.5h4M836 466.5h6M867 466.5h5M837 467.5h4M874 467.5h8M888 467.5h4M837 468.5h4M882 468.5h5M837 469.5h4M887 469.5h6M837 470.5h4M893 470.5h6M837 471.5h4M898 471.5h7M903 472.5h7M908 473.5h8M914 474.5h8M924 475.5h4M926 476.5h6M930 477.5h4M930 478.5h10M941 478.5h4M932 479.5h16M933 480.5h17M936 481.5h19M956 481.5h4M946 482.5h22M946 483.5h5M952 483.5h16M954 484.5h5M960 484.5h12M973 484.5h4M960 485.5h16M977 485.5h4M966 486.5h7M977 486.5h7M1031 486.5h5M1048 486.5h7M1072 486.5h4M980 487.5h6M1047 487.5h5M1071 487.5h8M1068 488.5h6M1075 488.5h6M987 489.5h8M1149 489.5h4M1144 490.5h9M1154 490.5h4M1097 491.5h6M1106 491.5h7M1139 491.5h4M1144 491.5h9M1154 491.5h4M1159 491.5h4M1096 492.5h8M1105 492.5h11M1137 492.5h6M1144 492.5h6M1151 492.5h5M1157 492.5h8M1095 493.5h9M1115 493.5h5M1152 493.5h4M1157 493.5h8M1115 494.5h7M1139 494.5h10M1160 494.5h6M1115 495.5h8M1138 495.5h7M1146 495.5h4M1117 496.5h6M1146 496.5h4M1159 496.5h4M1146 497.5h4M1146 498.5h4M1146 499.5h4M144 548.5h5M158 548.5h7M166 548.5h4M173 548.5h8M189 548.5h16M209 548.5h15M225 548.5h17M92 549.5h6M99 549.5h17M117 549.5h17M135 549.5h9M181 549.5h4M243 549.5h17M261 549.5h17M279 549.5h17M297 549.5h17M315 550.5h17M333 550.5h17M351 550.5h16M368 550.5h17M386 550.5h17M404 550.5h17M422 550.5h17M440 550.5h17M458 550.5h17M476 550.5h17M494 550.5h17M512 550.5h17M530 550.5h17M548 550.5h17M566 550.5h17M584 550.5h17M602 550.5h17M620 550.5h17M638 550.5h5M692 550.5h17M710 550.5h17M728 550.5h17M746 550.5h17M764 550.5h17M782 550.5h17M800 550.5h17M818 550.5h17M836 550.5h17M854 550.5h17M872 550.5h17M890 550.5h16M907 550.5h17M1142 550.5h15M643 551.5h48M927 551.5h240M92.5 327v3M93.5 320v2M93.5 327v3M94.5 327v7M95.5 319v3M96.5 329v1M98.5 320v2M99.5 329v2M100.5 322v1M100.5 329v3M101.5 329v2M102.5 321v2M103.5 322v1M103.5 331v1M105.5 323v2M106.5 332v2M107.5 332v1M109.5 322v3M109.5 332v1M110.5 332v1M111.5 324v1M111.5 332v1M112.5 323v2M113.5 332v1M114.5 332v3M115.5 323v4M116.5 323v4M118.5 325v2M118.5 335v1M119.5 335v1M120.5 335v3M122.5 327v1M123.5 325v3M124.5 327v1M124.5 335v2M125.5 335v6M126.5 335v4M128.5 325v2M128.5 335v1M129.5 326v1M129.5 335v1M132.5 326v1M132.5 334v1M135.5 338v4M136.5 302v1M136.5 338v12M136.5 355v3M137.5 280v23M138.5 263v40M138.5 338v1M138.5 345v31M139.5 248v42M140.5 297v24M140.5 331v54M140.5 548v1M141.5 210v80M141.5 297v1M142.5 214v76M142.5 297v6M142.5 310v17M142.5 548v1M143.5 260v30M143.5 303v86M144.5 185v25M144.5 211v49M145.5 184v26M146.5 211v63M146.5 284v110M147.5 193v17M147.5 211v49M147.5 274v125M148.5 114v79M149.5 108v14M149.5 549v1M150.5 119v79M150.5 548v1M151.5 198v2M151.5 214v182M151.5 548v1M152.5 174v8M152.5 200v192M153.5 79v88M153.5 549v1M154.5 49v30M154.5 548v1M155.5 47v18M155.5 548v1M156.5 64v57M156.5 548v1M157.5 121v106M157.5 245v16M157.5 549v1M158.5 261v139M159.5 152v14M159.5 196v163M160.5 64v68M161.5 23v44M164.5 23v7M165.5 28v49M165.5 549v1M166.5 82v53M167.5 183v10M167.5 251v113M168.5 286v117M169.5 139v56M169.5 254v32M170.5 64v67M171.5 23v41M171.5 548v1M172.5 549v1M176.5 23v15M176.5 39v65M178.5 23v12M179.5 29v24M180.5 81v15M181.5 155v14M181.5 250v24M182.5 291v123M183.5 262v148M184.5 135v14M184.5 205v32M185.5 74v21M185.5 548v1M186.5 30v19M186.5 548v1M187.5 548v1M191.5 547v1M201.5 23v21M202.5 42v32M203.5 86v24M204.5 141v3M204.5 173v51M205.5 224v129M205.5 549v1M206.5 353v60M207.5 246v120M207.5 549v1M208.5 146v76M208.5 549v1M209.5 96v57M210.5 58v33M211.5 29v22M212.5 23v9M225.5 23v2M226.5 23v2M228.5 27v6M230.5 31v3M231.5 32v5M232.5 34v3M233.5 35v2M233.5 40v2M234.5 40v4M235.5 23v1M235.5 40v1M236.5 42v6M237.5 45v10M238.5 42v3M238.5 48v7M239.5 42v6M239.5 52v6M240.5 42v10M240.5 56v5M241.5 47v9M241.5 64v7M242.5 75v6M243.5 68v7M243.5 90v10M245.5 114v4M246.5 156v2M246.5 201v4M247.5 235v45M248.5 280v104M249.5 372v44M250.5 274v98M251.5 203v35M251.5 266v4M252.5 159v31M253.5 133v8M255.5 110v5M256.5 85v6M256.5 97v7M257.5 82v5M257.5 91v4M258.5 69v3M258.5 82v3M258.5 87v3M258.5 548v1M259.5 82v1M259.5 85v4M260.5 83v3M261.5 64v2M262.5 65v1M263.5 65v1M264.5 80v1M265.5 548v1M266.5 64v4M267.5 83v1M268.5 84v1M269.5 85v2M270.5 86v7M271.5 85v1M271.5 88v3M272.5 85v3M272.5 89v1M273.5 85v4M273.5 91v2M274.5 93v30M275.5 83v7M275.5 91v2M275.5 94v1M276.5 86v4M276.5 91v2M276.5 96v1M277.5 89v1M277.5 91v2M277.5 97v5M278.5 99v2M279.5 100v3M280.5 89v4M280.5 99v1M280.5 102v4M281.5 99v3M281.5 103v5M282.5 94v1M282.5 99v4M282.5 105v3M283.5 100v5M283.5 106v2M284.5 104v2M284.5 110v1M285.5 105v3M285.5 110v1M286.5 108v1M286.5 110v1M287.5 104v6M287.5 120v8M288.5 109v2M289.5 125v2M290.5 109v3M293.5 128v11M294.5 128v2M295.5 118v1M296.5 131v2M298.5 119v2M302.5 139v1M303.5 139v1M305.5 130v1M307.5 140v1M309.5 133v1M312.5 146v1M313.5 146v4M314.5 146v5M315.5 144v1M315.5 148v5M316.5 151v3M316.5 157v8M317.5 150v4M319.5 152v2M320.5 152v2M324.5 165v1M325.5 157v1M326.5 165v1M327.5 165v1M328.5 165v1M328.5 168v1M329.5 168v2M330.5 168v4M331.5 169v5M332.5 173v5M333.5 177v4M334.5 182v5M335.5 188v5M336.5 195v6M337.5 204v8M338.5 216v18M339.5 239v29M340.5 271v25M341.5 296v23M342.5 319v82M343.5 387v44M344.5 299v26M344.5 340v47M345.5 269v27M346.5 242v25M347.5 224v17M348.5 213v9M349.5 205v7M350.5 200v5M351.5 192v1M351.5 200v2M352.5 192v1M352.5 200v1M355.5 203v1M356.5 203v1M357.5 192v2M357.5 203v1M359.5 192v3M359.5 203v1M361.5 190v5M361.5 202v2M362.5 194v1M362.5 202v2M363.5 203v4M363.5 208v1M364.5 202v1M364.5 204v3M365.5 202v2M365.5 205v2M366.5 202v3M367.5 203v2M367.5 208v3M368.5 204v1M368.5 209v2M368.5 213v1M369.5 208v1M369.5 210v1M370.5 203v2M370.5 208v1M370.5 213v1M371.5 208v1M371.5 210v1M371.5 213v1M371.5 216v3M372.5 210v2M372.5 213v1M372.5 216v2M373.5 206v3M373.5 210v2M374.5 211v1M374.5 216v1M375.5 213v1M375.5 216v1M376.5 211v1M376.5 213v2M376.5 216v1M378.5 213v4M379.5 215v3M380.5 217v2M380.5 222v1M380.5 224v1M381.5 216v4M381.5 222v1M382.5 219v2M382.5 222v1M382.5 224v1M383.5 220v2M383.5 224v1M384.5 221v2M384.5 224v1M385.5 229v2M386.5 222v3M387.5 223v3M387.5 229v1M388.5 226v1M388.5 229v1M388.5 231v3M389.5 225v3M389.5 229v1M390.5 226v3M390.5 231v3M391.5 228v2M391.5 231v4M391.5 236v1M392.5 227v3M392.5 233v2M392.5 236v4M393.5 231v2M393.5 234v1M394.5 231v3M394.5 236v2M395.5 231v4M395.5 237v3M396.5 233v4M396.5 238v4M397.5 237v1M397.5 240v2M398.5 238v2M398.5 241v1M399.5 240v1M399.5 251v3M400.5 237v5M400.5 251v2M402.5 240v2M402.5 243v1M402.5 251v1M403.5 243v1M404.5 240v2M404.5 243v1M405.5 245v1M405.5 251v2M406.5 243v1M406.5 245v2M407.5 246v2M407.5 251v1M408.5 246v3M408.5 251v2M409.5 247v2M409.5 251v2M410.5 248v1M410.5 250v1M410.5 252v1M411.5 250v2M411.5 549v1M412.5 250v3M413.5 253v1M413.5 256v2M414.5 254v1M414.5 256v2M415.5 257v1M415.5 261v1M416.5 254v1M416.5 256v1M417.5 254v1M417.5 256v1M418.5 256v2M419.5 261v1M420.5 257v1M420.5 261v2M421.5 259v1M421.5 261v3M422.5 260v1M422.5 262v2M423.5 260v2M423.5 263v1M423.5 265v1M424.5 260v3M424.5 265v2M425.5 261v3M425.5 265v3M426.5 263v2M426.5 266v2M427.5 261v5M427.5 267v1M428.5 265v2M428.5 271v2M429.5 266v2M430.5 267v1M430.5 271v1M431.5 268v1M431.5 271v1M432.5 268v2M432.5 271v1M432.5 273v1M433.5 269v2M433.5 273v1M434.5 270v2M434.5 273v2M435.5 271v2M435.5 274v2M436.5 273v1M436.5 275v2M437.5 273v2M437.5 276v1M438.5 273v3M439.5 275v1M440.5 279v1M441.5 277v1M441.5 279v1M441.5 282v1M442.5 279v1M443.5 277v2M443.5 283v1M444.5 279v1M445.5 280v1M445.5 283v1M446.5 283v1M447.5 281v1M447.5 283v2M448.5 280v3M448.5 284v1M449.5 282v2M449.5 286v1M450.5 286v1M451.5 286v1M457.5 289v1M459.5 290v2M459.5 294v1M460.5 294v2M461.5 294v2M462.5 295v1M462.5 297v1M463.5 297v1M464.5 297v1M465.5 296v1M465.5 299v2M466.5 299v2M467.5 297v1M467.5 299v2M468.5 304v1M472.5 301v1M472.5 304v1M473.5 302v1M473.5 304v2M474.5 304v2M475.5 303v1M475.5 305v2M476.5 306v1M477.5 305v1M478.5 309v1M479.5 309v1M480.5 309v1M481.5 313v2M483.5 309v1M484.5 313v1M485.5 313v1M486.5 313v2M487.5 312v1M487.5 314v1M488.5 312v1M488.5 314v1M489.5 313v1M490.5 317v1M491.5 317v1M492.5 315v1M492.5 317v2M493.5 318v1M493.5 320v1M494.5 318v1M495.5 320v1M496.5 320v2M497.5 320v2M498.5 319v1M498.5 321v1M499.5 320v1M504.5 323v1M508.5 329v1M509.5 329v1M510.5 329v1M513.5 332v1M514.5 332v1M515.5 332v1M518.5 332v1M521.5 334v1M522.5 334v1M522.5 338v1M523.5 338v1M524.5 338v1M526.5 343v3M527.5 343v2M528.5 343v1M530.5 343v1M531.5 341v1M531.5 343v1M532.5 343v1M536.5 347v1M537.5 347v1M538.5 347v1M539.5 346v1M543.5 351v1M544.5 351v1M545.5 351v1M546.5 350v1M548.5 354v1M549.5 354v1M550.5 354v2M551.5 353v1M551.5 355v1M552.5 355v1M552.5 358v1M557.5 356v1M559.5 360v1M560.5 360v1M561.5 360v1M567.5 364v1M568.5 364v1M569.5 364v1M572.5 367v1M573.5 367v1M574.5 371v3M575.5 367v1M584.5 374v1M601.5 378v1M601.5 382v1M603.5 379v1M607.5 381v1M616.5 385v1M622.5 390v2M623.5 390v1M624.5 390v2M625.5 391v1M626.5 391v1M626.5 393v1M628.5 393v1M629.5 393v1M630.5 393v1M633.5 396v1M634.5 396v2M635.5 396v2M636.5 397v2M637.5 396v1M637.5 398v1M638.5 400v1M639.5 399v1M639.5 401v2M640.5 400v1M640.5 402v1M641.5 401v1M642.5 402v2M643.5 405v2M644.5 407v5M645.5 413v5M646.5 419v6M647.5 427v6M647.5 440v2M648.5 448v29M649.5 453v25M650.5 433v8M650.5 449v5M651.5 423v8M652.5 415v6M653.5 410v5M654.5 408v3M655.5 408v1M659.5 403v1M661.5 549v1M672.5 405v1M674.5 406v1M676.5 409v1M677.5 409v1M678.5 409v1M680.5 412v1M681.5 412v1M682.5 411v1M682.5 413v1M682.5 549v1M683.5 411v1M684.5 411v2M685.5 412v1M686.5 412v1M686.5 414v1M687.5 549v1M688.5 412v1M691.5 416v1M694.5 414v1M703.5 415v2M703.5 420v1M703.5 422v1M704.5 416v1M704.5 422v3M706.5 413v4M706.5 423v2M707.5 413v4M707.5 423v3M708.5 415v2M709.5 425v1M710.5 414v5M711.5 414v5M712.5 425v1M713.5 418v3M723.5 426v1M724.5 425v1M725.5 425v1M726.5 425v1M727.5 426v1M728.5 425v2M729.5 426v1M731.5 426v1M739.5 430v1M740.5 430v1M741.5 430v1M743.5 430v1M744.5 430v1M751.5 432v1M763.5 436v1M771.5 442v1M775.5 440v1M779.5 441v1M785.5 446v1M815.5 450v1M820.5 451v1M834.5 451v1M834.5 461v3M835.5 439v13M836.5 436v16M838.5 472v1M839.5 454v2M839.5 472v7M840.5 453v3M840.5 472v5M842.5 451v4M843.5 452v3M846.5 463v1M847.5 463v1M849.5 454v3M850.5 462v1M851.5 457v1M851.5 459v1M851.5 462v3M852.5 457v1M852.5 459v1M852.5 462v2M855.5 460v1M856.5 460v1M860.5 461v1M863.5 466v2M864.5 462v1M864.5 466v1M865.5 466v2M866.5 468v6M867.5 462v2M867.5 465v1M867.5 467v2M868.5 465v1M869.5 463v1M869.5 465v1M870.5 464v1M872.5 464v1M873.5 464v1M873.5 466v1M874.5 464v1M874.5 466v1M875.5 466v1M876.5 464v2M877.5 465v1M878.5 468v1M879.5 465v1M879.5 468v1M880.5 468v1M882.5 465v2M883.5 466v1M883.5 469v1M884.5 465v2M885.5 469v1M886.5 466v1M887.5 470v1M888.5 470v1M891.5 470v1M893.5 468v1M893.5 471v1M894.5 468v1M895.5 468v1M896.5 471v1M897.5 468v1M899.5 468v2M899.5 472v1M900.5 469v1M901.5 472v1M906.5 470v1M906.5 473v1M909.5 470v1M911.5 471v1M912.5 471v1M913.5 471v1M917.5 472v1M919.5 475v1M920.5 472v1M921.5 475v2M923.5 473v1M924.5 473v1M925.5 550v1M926.5 550v1M927.5 477v1M928.5 474v1M928.5 477v2M929.5 472v3M930.5 474v1M930.5 479v1M934.5 481v1M935.5 477v1M936.5 477v1M938.5 477v1M941.5 482v2M943.5 482v1M944.5 482v4M948.5 484v1M949.5 479v1M952.5 477v2M952.5 480v1M953.5 480v1M954.5 480v1M954.5 485v1M955.5 485v2M957.5 480v1M958.5 485v1M959.5 479v1M961.5 481v1M963.5 481v1M964.5 486v1M968.5 487v1M969.5 487v3M970.5 483v1M970.5 487v1M972.5 487v1M984.5 488v1M986.5 486v1M986.5 488v1M987.5 488v1M988.5 490v1M989.5 490v1M990.5 490v2M992.5 488v1M993.5 488v1M993.5 490v1M994.5 490v1M995.5 490v2M996.5 488v2M997.5 490v3M998.5 488v1M998.5 490v1M999.5 487v1M999.5 489v1M1000.5 485v1M1000.5 488v1M1001.5 487v2M1002.5 488v2M1003.5 490v2M1004.5 493v3M1005.5 494v4M1006.5 492v2M1007.5 489v1M1008.5 487v1M1009.5 483v2M1009.5 486v1M1010.5 487v3M1011.5 489v3M1012.5 490v3M1013.5 492v3M1014.5 493v3M1015.5 492v2M1016.5 490v1M1017.5 489v1M1018.5 485v1M1018.5 487v2M1019.5 486v3M1020.5 486v1M1021.5 485v3M1022.5 487v2M1023.5 489v2M1024.5 488v1M1024.5 491v2M1025.5 494v4M1026.5 498v3M1027.5 500v2M1029.5 492v1M1030.5 488v3M1031.5 487v2M1032.5 484v1M1032.5 487v1M1033.5 485v1M1034.5 487v1M1035.5 487v1M1036.5 488v2M1037.5 487v1M1037.5 489v1M1038.5 490v2M1039.5 493v1M1040.5 496v3M1041.5 499v6M1042.5 500v4M1043.5 497v3M1044.5 494v2M1045.5 488v1M1045.5 491v2M1046.5 489v3M1047.5 488v2M1048.5 488v2M1050.5 485v1M1051.5 485v1M1052.5 484v1M1053.5 484v1M1053.5 487v1M1054.5 487v1M1055.5 487v3M1056.5 489v1M1057.5 491v2M1058.5 489v2M1058.5 494v2M1059.5 496v3M1060.5 499v3M1061.5 502v7M1062.5 505v6M1063.5 501v4M1064.5 497v2M1065.5 494v2M1066.5 492v3M1067.5 490v4M1068.5 489v2M1069.5 489v1M1070.5 489v2M1077.5 489v1M1079.5 489v1M1080.5 489v1M1081.5 487v1M1081.5 489v1M1082.5 490v2M1083.5 492v2M1084.5 494v2M1085.5 497v2M1086.5 496v1M1086.5 500v1M1087.5 499v1M1087.5 503v3M1088.5 506v11M1089.5 517v4M1090.5 507v14M1091.5 502v5M1092.5 501v3M1093.5 499v1M1094.5 496v2M1095.5 494v2M1096.5 494v1M1099.5 494v4M1100.5 489v1M1100.5 494v1M1102.5 494v1M1104.5 488v1M1104.5 490v2M1105.5 493v2M1106.5 493v1M1107.5 493v2M1109.5 490v1M1109.5 493v6M1110.5 493v2M1111.5 490v1M1113.5 493v2M1114.5 489v1M1114.5 491v1M1117.5 497v4M1118.5 490v1M1118.5 492v1M1119.5 497v3M1120.5 497v4M1123.5 497v1M1124.5 499v1M1125.5 504v3M1126.5 509v2M1127.5 511v6M1128.5 509v5M1129.5 505v4M1130.5 500v1M1132.5 497v1M1133.5 495v2M1133.5 498v1M1134.5 497v3M1135.5 492v3M1135.5 496v1M1137.5 493v1M1138.5 493v1M1138.5 496v1M1139.5 490v1M1140.5 489v2M1140.5 496v2M1142.5 496v4M1144.5 486v4M1144.5 496v2M1145.5 486v4M1146.5 500v1M1147.5 488v2M1148.5 500v1M1149.5 493v1M1149.5 500v3M1150.5 486v3M1152.5 485v4M1152.5 495v1M1155.5 488v2M1155.5 495v2M1156.5 488v2M1157.5 489v1M1159.5 489v2M1159.5 495v1M1159.5 497v3M1160.5 550v1M1161.5 490v1M1162.5 488v3M1163.5 550v1M1164.5 491v1M1164.5 496v1M1165.5 496v9M1165.5 550v1M1166.5 501v6M1167.5 493v2M1167.5 496v5" stroke="#008bff" stroke-width="1" fill="none"/></svg></body></html>
